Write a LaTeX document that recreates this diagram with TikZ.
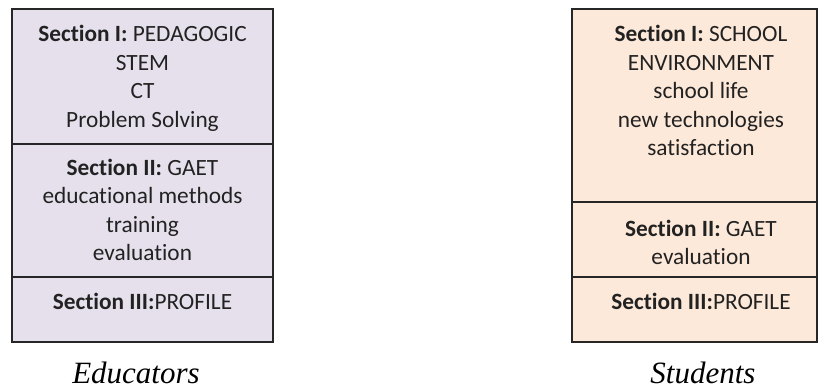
\documentclass[tikz,border=0pt]{standalone}
\usepackage{fontspec}
\setmainfont{Carlito}[Ligatures={NoCommon}]
\newfontfamily\capfont{Liberation Serif}
\definecolor{lilac}{HTML}{E6E0EC}
\definecolor{peach}{HTML}{FDE9D9}
\definecolor{txt}{HTML}{222222}
\begin{document}
\begin{tikzpicture}[x=1pt,y=-1pt,
  sec/.style={draw=black!85,line width=1.1pt},
  body/.style={align=center,text=txt,inner sep=0pt,anchor=base,font=\fontsize{23.3}{28.5}\selectfont},
  caption/.style={font=\capfont\itshape\fontsize{31}{34}\selectfont,inner sep=0pt,anchor=base}]
\useasboundingbox (0,0) rectangle (818,390);
% Educators
\draw[sec,fill=lilac] (12,9) rectangle (273,342);
\draw[sec] (12,144) -- (273,144);
\draw[sec] (12,277) -- (273,277);
\node[body] (e1) at (142.5,127.5) {\textbf{Section I:} PEDAGOGIC\\STEM\\CT\\Problem Solving};
\node[body] (e2) at (142.5,260.5) {\textbf{Section II:} GAET\\educational methods\\training\\evaluation};
\node[body] (e3) at (142.5,309) {\textbf{Section III:}PROFILE};
\node[caption] (ecap) at (136,383) {Educators};
% Students
\draw[sec,fill=peach] (572,9) rectangle (817,342);
\draw[sec] (572,202) -- (817,202);
\draw[sec] (572,277) -- (817,277);
\node[body] (s1) at (701,156) {\textbf{Section I:} SCHOOL\\ENVIRONMENT\\school life\\new technologies\\satisfaction};
\node[body] (s2) at (701,264.5) {\textbf{Section II:} GAET\\evaluation};
\node[body] (s3) at (701,309) {\textbf{Section III:}PROFILE};
\node[caption] (scap) at (703,383) {Students};
\end{tikzpicture}
\end{document}
